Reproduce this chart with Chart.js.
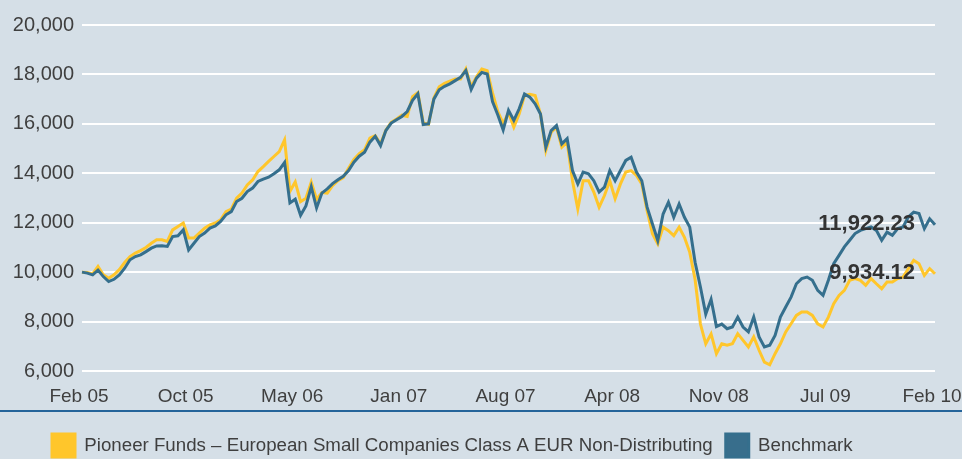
<!DOCTYPE html>
<html>
<head>
<meta charset="utf-8">
<script src="https://cdn.jsdelivr.net/npm/chart.js@4/dist/chart.umd.min.js"></script>
<style>
  html, body { margin: 0; padding: 0; background: #d5dfe7; }
  #wrap { width: 962px; height: 459px; position: relative; }
</style>
</head>
<body>
<div id="wrap"><canvas id="Chart"></canvas></div>
<script>
// tick labels on the time axis, one every 20 points
var tickLabels = ['Feb 05', 'Oct 05', 'May 06', 'Jan 07', 'Aug 07', 'Apr 08', 'Nov 08', 'Jul 09', 'Feb 10'];
var pointsPerTick = 20;

var fundName = 'Pioneer Funds \u2013 European Small Companies Class A EUR Non-Distributing';
var benchName = 'Benchmark';

var fund = [
  10000, 9990, 9930, 10230, 9890, 9750, 9890, 10100, 10390, 10630,
  10770, 10870, 11000, 11170, 11310, 11310, 11240, 11710, 11850, 11990,
  11380, 11380, 11580, 11780, 11910, 11990, 12120, 12450, 12550, 12990,
  13200, 13530, 13730, 14070, 14270, 14480, 14680, 14880, 15350, 13270,
  13650, 12850, 12990, 13640, 12950, 13220, 13200, 13500, 13700, 13820,
  14200, 14560, 14800, 14950, 15420, 15520, 15180, 15740, 16060, 16200,
  16350, 16300, 17100, 17260, 16050, 15980, 17050, 17500, 17640, 17730,
  17820, 17820, 18220, 17500, 17900, 18220, 18150, 17250, 16490, 16020,
  16450, 15870, 16400, 17150, 17200, 17150, 16400, 14920, 15660, 15870,
  15060, 15260, 13700, 12560, 13700, 13700, 13240, 12630, 13100, 13700,
  12970, 13570, 14050, 14110, 13910, 13570, 12490, 11550, 11140, 11820,
  11680, 11480, 11820, 11410, 10800, 9700, 7900, 7100, 7500, 6700,
  7100, 7040, 7100, 7510, 7240, 6970, 7380, 6840, 6360, 6250,
  6700, 7100, 7580, 7910, 8250, 8390, 8390, 8250, 7910, 7780,
  8180, 8720, 9060, 9260, 9670, 9740, 9670, 9470, 9740, 9530,
  9330, 9600, 9600, 9740, 9800, 10140, 10480, 10340, 9870, 10140,
  9934.12
];

var bench = [
  10000, 9960, 9890, 10080, 9820, 9620, 9710, 9890, 10160, 10500,
  10630, 10700, 10830, 10970, 11060, 11070, 11040, 11440, 11470, 11710,
  10900, 11170, 11440, 11580, 11780, 11870, 12050, 12320, 12450, 12860,
  12990, 13260, 13400, 13670, 13760, 13840, 13980, 14140, 14440, 12800,
  12950, 12300, 12680, 13450, 12600, 13200, 13370, 13580, 13740, 13880,
  14110, 14450, 14690, 14850, 15260, 15500, 15120, 15730, 16030, 16170,
  16300, 16500, 16950, 17220, 15970, 16000, 17000, 17380, 17520, 17620,
  17750, 17880, 18160, 17390, 17850, 18080, 18020, 16900, 16360, 15750,
  16550, 16140, 16610, 17210, 17080, 16810, 16400, 15060, 15730, 15930,
  15190, 15400, 14110, 13570, 14050, 13980, 13700, 13240, 13440, 14110,
  13700, 14110, 14520, 14650, 14050, 13700, 12630, 11950, 11280, 12350,
  12830, 12220, 12760, 12220, 11820, 10400, 9400, 8300, 8900, 7800,
  7900, 7710, 7780, 8180, 7780, 7580, 8180, 7380, 6970, 7040,
  7440, 8180, 8590, 8990, 9530, 9740, 9800, 9670, 9260, 9060,
  9670, 10340, 10680, 11020, 11290, 11560, 11690, 11760, 11830, 11690,
  11290, 11620, 11490, 11760, 11830, 12230, 12430, 12370, 11760, 12160,
  11922.23
];

var labels = fund.map(function (v, i) {
  return i % pointsPerTick === 0 ? tickLabels[i / pointsPerTick] : '';
});

var textColor = '#3f3f3f';
var fontFam = "'Liberation Sans', Arial, sans-serif";

// rule under the x axis, legend nudge, value labels at the line ends
var extras = {
  id: 'extras',
  beforeDraw: function (c) {
    c.legend.left = 39;
  },
  afterDraw: function (c) {
    var ctx = c.ctx;
    var xs = c.scales.x;
    ctx.save();
    ctx.strokeStyle = '#25649a';
    ctx.lineWidth = 2;
    ctx.beginPath();
    ctx.moveTo(0, xs.bottom - 10);
    ctx.lineTo(c.width, xs.bottom - 10);
    ctx.stroke();
    ctx.restore();
  },
  afterDatasetsDraw: function (c) {
    var ctx = c.ctx;
    ctx.save();
    ctx.font = 'bold 22px "Liberation Sans", sans-serif';
    ctx.fillStyle = '#333333';
    ctx.textAlign = 'right';
    ctx.textBaseline = 'middle';
    c.data.datasets.forEach(function (ds, k) {
      var pts = c.getDatasetMeta(k).data;
      var last = pts[pts.length - 1];
      var v = ds.data[ds.data.length - 1];
      ctx.fillText(v.toLocaleString('en-US', { minimumFractionDigits: 2 }), last.x - 20, last.y - 1);
    });
    ctx.restore();
  }
};

new Chart(document.getElementById('Chart').getContext('2d'), {
  type: 'line',
  data: {
    labels: labels,
    datasets: [{
      label: fundName,
      data: fund,
      borderColor: '#ffc62b',
      backgroundColor: '#ffc62b',
      borderWidth: 3,
      pointRadius: 0,
      tension: 0,
      order: 2
    }, {
      label: benchName,
      data: bench,
      borderColor: '#356f8d',
      backgroundColor: '#386e8c',
      borderWidth: 3,
      pointRadius: 0,
      tension: 0,
      order: 1
    }]
  },
  options: {
    responsive: true,
    maintainAspectRatio: false,
    animation: false,
    layout: { padding: { left: 0, right: 27, top: 25, bottom: -8 } },
    scales: {
      x: {
        grid: { display: false },
        border: { display: false },
        afterFit: function (s) { s.height = 50; },
        ticks: {
          autoSkip: false,
          maxRotation: 0,
          padding: -3,
          labelOffset: -3,
          color: textColor,
          // tall line box pushes the labels down without widening the side padding
          font: { family: fontFam, size: 19, lineHeight: 2.2 }
        }
      },
      y: {
        min: 6000,
        max: 20000,
        afterFit: function (s) { s.width = 82; },
        grid: { color: '#ffffff', lineWidth: 2, drawTicks: false },
        border: { display: false },
        ticks: {
          stepSize: 2000,
          padding: 8,
          color: textColor,
          font: { family: fontFam, size: 20 },
          callback: function (v) { return v.toLocaleString('en-US'); }
        }
      }
    },
    plugins: {
      tooltip: { enabled: false },
      legend: {
        position: 'bottom',
        align: 'start',
        labels: {
          boxWidth: 23,
          boxHeight: 23,
          padding: 13,
          color: textColor,
          font: { family: fontFam, size: 18.7 },
          sort: function (a, b) { return a.datasetIndex - b.datasetIndex; }
        }
      }
    }
  },
  plugins: [extras]
});
</script>
</body>
</html>
